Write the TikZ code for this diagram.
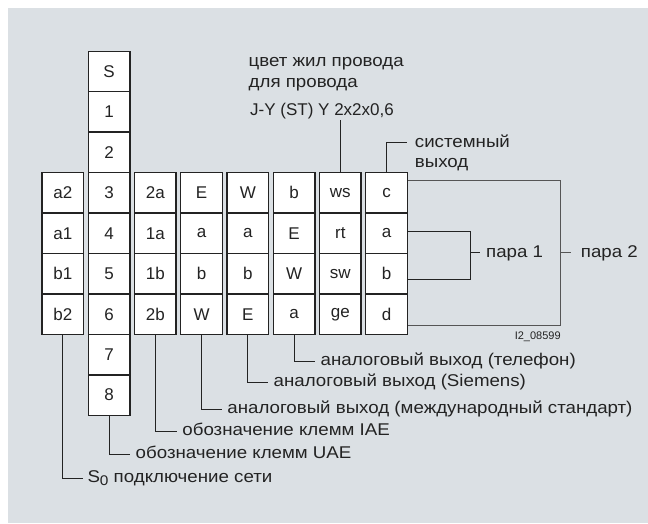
\documentclass[tikz,border=0pt]{standalone}
\usepackage{fontspec}
\setmainfont{Liberation Sans}
\newfontfamily\cyrfont[FakeStretch=1.1]{Liberation Sans}
\usetikzlibrary{positioning}
\definecolor{panelgray}{RGB}{219, 224, 228}
\definecolor{inkdark}{RGB}{35, 35, 35}
\definecolor{inkgray}{RGB}{85, 85, 85}

\begin{document}
\begin{tikzpicture}[
  x=1pt, y=-1pt,
  cell/.style={rectangle, draw=inkdark, fill=white, line width=1.4pt, minimum width=41.7pt, minimum height=40.45pt, inner sep=0pt, font=\fontsize{17}{20}\selectfont, text=inkdark},
  lbl/.style={anchor=west, inner xsep=5.5pt, inner ysep=0pt, text height=12.2pt, text depth=3.4pt, font=\cyrfont\fontsize{17}{20}\selectfont, text=inkdark},
  lead/.style={draw=inkdark, line width=0.9pt}
]
  \useasboundingbox (0,0) rectangle (648,523);
  \fill[panelgray] (8,8) rectangle (648,523);

  \foreach \txt [count=\r from 0] in {S,1,2,3,4,5,6,7,8}
    \node[cell] (uae\r) at (109.1, {71.5+40.45*\r}) {\txt};
  \foreach \col/\i/\entries in {net/0/{a2,a1,b1,b2}, iae/2/{2a,1a,1b,2b}, intl/3/{E,a,b,W}, siem/4/{W,a,b,E}, tel/5/{b,E,W,a}, wire/6/{ws,rt,sw,ge}, sys/7/{c,a,b,d}}
    \foreach \txt [count=\r from 3] in \entries
      \node[cell] (\col\r) at ({62.85+46.24*\i}, {71.5+40.45*\r}) {\txt};

  \node[lbl, anchor=base west, inner xsep=0pt] (wireTitle) at (248.5, 66.7) {цвет жил провода};
  \node[lbl, anchor=base west, inner xsep=0pt] (wireTitleB) at (248.5, 87.3) {для провода};
  \node[lbl, anchor=base west, inner xsep=0pt, inner ysep=1.5pt, font=\fontsize{17}{20}\selectfont] (wireType) at (250, 115) {J-Y (ST) Y 2x2x0,6};
  \node[lbl, inner xsep=8pt] (sysOutA) at (406.7, 142.7) {системный};
  \node[lbl, inner xsep=8pt] (sysOutB) at (406.7, 163.2) {выход};

  \node[lbl, inner xsep=6pt] (pairOne) at (480, 252.7) {пара 1};
  \node[lbl, inner xsep=10pt] (pairTwo) at (570.7, 252.7) {пара 2};
  \node[font=\fontsize{11}{13}\selectfont, text=inkdark] (figId) at (537.7, 336.7) {I2\_08599};

  \node[lbl] (lbTel) at (315, 361) {аналоговый выход (телефон)};
  \node[lbl] (lbSiem) at (268, 382.5) {аналоговый выход (Siemens)};
  \node[lbl] (lbIntl) at (221.7, 409.3) {аналоговый выход (международный стандарт)};
  \node[lbl] (lbIae) at (176.7, 431) {обозначение клемм IAE};
  \node[lbl] (lbUae) at (130, 454) {обозначение клемм UAE};
  \node[lbl, inner xsep=4pt] (lbNet) at (83.3, 478.3) {S\raisebox{-3pt}{\fontsize{14}{14}\selectfont 0} подключение сети};

  \draw[lead] (wire3.north) -- (wire3.north |- wireType.south);
  \draw[lead] (sys3.north) |- (sysOutA.west);
  \draw[lead] ([yshift=1.6pt]sys4.east) -| ([xshift=-9.3pt]pairOne.west) |- ([yshift=-5.2pt]sys5.east);
  \draw[lead] ([xshift=-9.3pt]pairOne.west) -- (pairOne.west);
  \draw[lead, draw=inkgray] ([yshift=12.9pt]sys3.east) -| ([xshift=-10.4pt]pairTwo.west) |- ([yshift=-11.5pt]sys6.east);
  \draw[lead, draw=inkgray] ([xshift=-10.4pt]pairTwo.west) -- (pairTwo.west);
  \draw[lead] (tel6.south) |- (lbTel.west);
  \draw[lead] (siem6.south) |- (lbSiem.west);
  \draw[lead] (intl6.south) |- (lbIntl.west);
  \draw[lead] (iae6.south) |- (lbIae.west);
  \draw[lead] (uae8.south) |- (lbUae.west);
  \draw[lead] (net6.south) |- (lbNet.west);
\end{tikzpicture}
\end{document}
